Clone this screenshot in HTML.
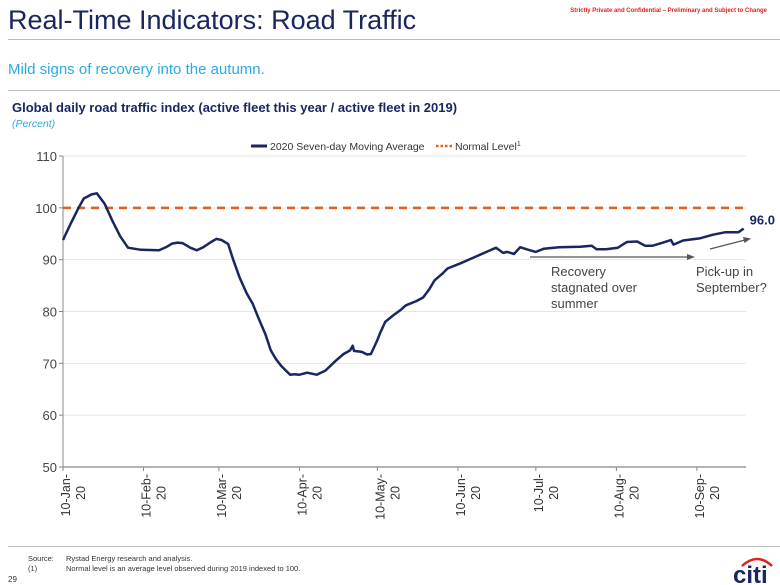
<!DOCTYPE html>
<html><head><meta charset="utf-8">
<style>
body{margin:0;background:#fff;width:780px;height:585px;overflow:hidden;font-family:"Liberation Sans",sans-serif;}
svg{display:block}
</style></head>
<body>
<svg id="c" width="780" height="585" viewBox="0 0 780 585">
<text x="8" y="29" font-size="27" fill="#1a2660">Real-Time Indicators: Road Traffic</text>
<text x="767" y="12" font-size="6" fill="#e0201b" text-anchor="end" font-weight="bold">Strictly Private and Confidential – Preliminary and Subject to Change</text>
<line x1="8" y1="39.5" x2="780" y2="39.5" stroke="#bbb" stroke-width="1"/>
<text x="8" y="74" font-size="15" fill="#29abe2">Mild signs of recovery into the autumn.</text>
<line x1="8" y1="90.5" x2="780" y2="90.5" stroke="#bbb" stroke-width="1"/>
<text x="12" y="112" font-size="13" font-weight="bold" fill="#1a2660">Global daily road traffic index (active fleet this year / active fleet in 2019)</text>
<text x="12" y="127" font-size="10.5" font-style="italic" fill="#29abe2">(Percent)</text>
<g>
<line x1="251" y1="146" x2="267" y2="146" stroke="#1a2660" stroke-width="3"/>
<text x="270" y="150" font-size="10.5" fill="#333">2020 Seven-day Moving Average</text>
<line x1="436" y1="146" x2="452" y2="146" stroke="#d9621e" stroke-width="2.5" stroke-dasharray="2.5,2"/>
<text x="455" y="150" font-size="10.5" fill="#333">Normal Level<tspan font-size="7" dy="-4">1</tspan></text>
</g>
<g id="grid"></g><g id="axes"></g><g id="series"></g>
<g>
<line x1="530" y1="257" x2="690" y2="257" stroke="#555" stroke-width="1.2"/>
<polygon points="695,257 687,254 687,260" fill="#555"/>
<text font-size="13" fill="#444"><tspan x="551" y="276">Recovery</tspan><tspan x="551" y="292">stagnated over</tspan><tspan x="551" y="308">summer</tspan></text>
<line x1="710" y1="249" x2="745" y2="240" stroke="#555" stroke-width="1.2"/>
<polygon points="751,238.5 743,237 744.5,243" fill="#555"/>
<text font-size="13" fill="#444"><tspan x="696" y="276">Pick-up in</tspan><tspan x="696" y="292">September?</tspan></text>
</g>
<line x1="8" y1="546.5" x2="780" y2="546.5" stroke="#bbb" stroke-width="1"/>
<text x="28" y="561" font-size="7.5" fill="#333">Source:</text>
<text x="66" y="561" font-size="7.5" fill="#333">Rystad Energy research and analysis.</text>
<text x="28" y="571" font-size="7.5" fill="#333">(1)</text>
<text x="66" y="571" font-size="7.5" fill="#333">Normal level is an average level observed during 2019 indexed to 100.</text>
<text x="8" y="582" font-size="8" fill="#333">29</text>
<g>
<path d="M742 566 Q757 552 772 566" stroke="#e0201b" stroke-width="2.5" fill="none"/>
<text x="733" y="583" font-size="24" font-weight="bold" fill="#1a2660">citi</text>
</g>
</svg>
<script>
const yTicks=[50,60,70,80,90,100,110];
const xTickDays=[0,31,60,91,121,152,182,213,244];
const xTickLabels=[["10-Jan-","20"],["10-Feb-","20"],["10-Mar-","20"],["10-Apr-","20"],["10-May-","20"],["10-Jun-","20"],["10-Jul-","20"],["10-Aug-","20"],["10-Sep-","20"]];
const days=[0,3,6,8,11,13,16,19,22,25,30,37,40,42,44,46,49,51.5,54,57,59,61,63.6,65.5,68,70.7,73,75,78,80,82,84,86,87.4,89,91,94,97.6,101,105,108,110.5,111.5,112,115,117,118.5,121,122,124,127,130,132,136,138.6,141,143,146,148,153,158,163,166.7,169.4,171,173.6,176,178.5,182,185,191,199,203.5,205.4,209,213.6,217,221,224,227,231,234,235,238.7,245,250,255,260,262];
const values=[93.8,97,100,101.8,102.6,102.8,100.8,97.5,94.5,92.3,91.9,91.8,92.5,93.1,93.3,93.2,92.3,91.8,92.4,93.4,94,93.8,93,90,86.5,83.5,81.5,79,75.5,72.5,70.8,69.5,68.5,67.8,67.9,67.8,68.2,67.8,68.6,70.5,71.8,72.5,73.4,72.4,72.2,71.7,71.8,74.5,75.8,78,79.2,80.3,81.2,82,82.7,84.3,86,87.3,88.3,89.3,90.4,91.5,92.3,91.3,91.5,91.1,92.4,92,91.5,92.1,92.4,92.5,92.7,92,92,92.3,93.4,93.5,92.7,92.7,93.3,93.8,92.9,93.7,94.1,94.8,95.3,95.3,96];
const normalLevel=[100];
const lastLabel=["96.0"];
const NS="http://www.w3.org/2000/svg";
const X0=63,PXD=2.598,XR=746,Y0=467,YT=156;
function xs(d){return X0+d*PXD;}
function ys(v){return Y0-(v-50)/60*(Y0-YT);}
function mk(tag,attrs,parent){const e=document.createElementNS(NS,tag);for(const k in attrs)e.setAttribute(k,attrs[k]);parent.appendChild(e);return e;}
const grid=document.getElementById('grid'),axes=document.getElementById('axes'),series=document.getElementById('series');
yTicks.forEach(v=>{
 if(v>50){const g=mk('line',{x1:X0,x2:XR,y1:ys(v),y2:ys(v),stroke:'#e6e6e6','stroke-width':1},grid);
 
 }
 const t=mk('line',{x1:X0-4,x2:X0,y1:ys(v),y2:ys(v),stroke:'#888'},axes);
 
 
 const l=mk('text',{x:X0-6,y:ys(v)+5,'text-anchor':'end','font-size':13,fill:'#444'},axes);l.textContent=v;
 
 
});
const ya=mk('line',{x1:X0,x2:X0,y1:YT,y2:Y0,stroke:'#888'},axes);


const xa=mk('line',{x1:X0,x2:XR,y1:Y0,y2:Y0,stroke:'#888','stroke-width':1.2},axes);


xTickDays.forEach((d,i)=>{
 const x=xs(d);
 const t=mk('line',{x1:x,x2:x,y1:Y0,y2:Y0+4,stroke:'#888'},axes);
 
 
 const l=mk('text',{transform:`translate(${x+7},474) rotate(-90)`,'text-anchor':'end','font-size':12.5,fill:'#333'},axes);
 
 
 const a=mk('tspan',{x:0,y:0},l);a.textContent=xTickLabels[i][0];
 const b=mk('tspan',{x:-12,y:15},l);b.textContent=xTickLabels[i][1];
});
const nl=mk('line',{x1:X0,x2:XR,y1:ys(normalLevel[0]),y2:ys(normalLevel[0]),stroke:'#d9621e','stroke-width':2.5,'stroke-dasharray':'8,6'},series);


const p=mk('path',{d:days.map((d,i)=>(i?'L':'M')+xs(d).toFixed(1)+' '+ys(values[i]).toFixed(1)).join(' '),fill:'none',stroke:'#1a2660','stroke-width':2.5,'stroke-linejoin':'round'},series);


const lv=mk('text',{x:xs(days[days.length-1])+6,y:ys(values[values.length-1])-4,'font-size':13,'font-weight':'bold',fill:'#1a2660'},series);lv.textContent=lastLabel[0];


</script>
</body></html>
